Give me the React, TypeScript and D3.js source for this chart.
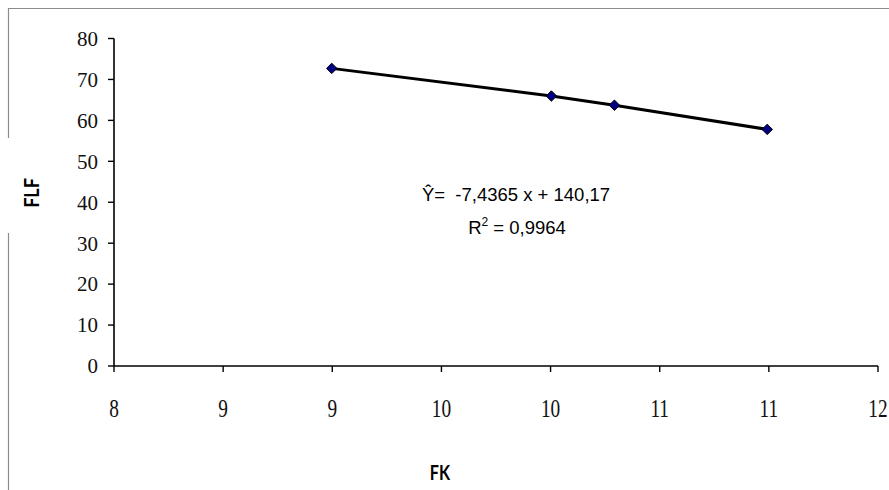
import React from "react";
import * as d3 from "d3";

const fkValues = [9.14, 10.29, 10.62, 11.42];
const flfValues = [72.7, 65.95, 63.7, 57.8];
const xTickLabels = ["8", "9", "9", "10", "10", "11", "11", "12"];
const yTickLabels = ["0", "10", "20", "30", "40", "50", "60", "70", "80"];
const equationText = "Ŷ=  -7,4365 x + 140,17";
const r2Text = "0,9964";

const W = 889;
const H = 490;
const plot = { left: 114, right: 878, top: 38.5, bottom: 366 };

export default function App() {
  const x = d3.scaleLinear().domain([8, 12]).range([plot.left, plot.right]);
  const y = d3.scaleLinear().domain([0, 80]).range([plot.bottom, plot.top]);
  const xTicks = xTickLabels.map((_, i) => 8 + (i * 4) / (xTickLabels.length - 1));
  const yTicks = yTickLabels.map((t) => +t);
  const pts = fkValues.map((v, i) => [x(v), y(flfValues[i])] as [number, number]);
  const line = d3.line()(pts) || "";
  const diamond = d3.symbol().type(d3.symbolDiamond2).size(70)() || "";

  return (
    <svg
      width={W}
      height={H}
      style={{ position: "absolute", left: 0, top: 0, background: "#fff" }}
    >
      <rect x={0} y={0} width={W} height={H} fill="#fff" />
      {/* frame */}
      <line x1={8} y1={8.5} x2={W} y2={8.5} stroke="#8c8c8c" strokeWidth={1.2} />
      <line x1={8.5} y1={8} x2={8.5} y2={138} stroke="#8c8c8c" strokeWidth={1.2} />
      <line x1={8.5} y1={233} x2={8.5} y2={H} stroke="#8c8c8c" strokeWidth={1.2} />

      {/* y axis */}
      <line x1={plot.left} y1={plot.top} x2={plot.left} y2={plot.bottom} stroke="#000" strokeWidth={1.6} />
      {yTicks.map((t, i) => (
        <g key={"y" + i}>
          <line x1={plot.left - 6} y1={y(t)} x2={plot.left} y2={y(t)} stroke="#000" strokeWidth={1.4} />
          <text
            x={98}
            y={y(t)}
            dy="0.35em"
            textAnchor="end"
            fontFamily="'Liberation Serif', serif"
            fontSize={21}
            fill="#111"
          >
            {yTickLabels[i]}
          </text>
        </g>
      ))}

      {/* x axis */}
      <line x1={plot.left} y1={plot.bottom} x2={plot.right} y2={plot.bottom} stroke="#000" strokeWidth={1.6} />
      {xTicks.map((t, i) => (
        <g key={"x" + i}>
          <line x1={x(t)} y1={plot.bottom} x2={x(t)} y2={plot.bottom + 6} stroke="#000" strokeWidth={1.4} />
          <text
            transform={`translate(${x(t)},417) scale(0.92,1.2)`}
            textAnchor="middle"
            fontFamily="'Liberation Serif', serif"
            fontSize={21}
            fill="#111"
          >
            {xTickLabels[i]}
          </text>
        </g>
      ))}

      {/* data line */}
      <path d={line} fill="none" stroke="#000" strokeWidth={3} />
      {pts.map((p, i) => (
        <path
          key={"p" + i}
          d={diamond}
          transform={`translate(${p[0]},${p[1]})`}
          fill="#000080"
          stroke="#000"
          strokeWidth={1}
        />
      ))}

      {/* equation */}
      <text
        x={516}
        y={201}
        textAnchor="middle"
        fontFamily="'Liberation Sans', Arial, sans-serif"
        fontSize={18.5}
        fill="#000"
        style={{ whiteSpace: "pre" }}
      >
        {equationText}
      </text>
      <text
        x={517}
        y={234}
        textAnchor="middle"
        fontFamily="'Liberation Sans', Arial, sans-serif"
        fontSize={18.5}
        fill="#000"
      >
        R<tspan dy={-8} fontSize={12}>2</tspan>
        <tspan dy={8}>{" = " + r2Text}</tspan>
      </text>

      {/* axis titles */}
      <text
        transform="translate(39,193) rotate(-90) scale(1,1.2)"
        textAnchor="middle"
        fontFamily="Lato, 'Open Sans', sans-serif"
        fontWeight="bold"
        fontSize={18}
        fill="#000"
      >
        FLF
      </text>
      <text
        transform="translate(440,480) scale(0.9,1.2)"
        textAnchor="middle"
        fontFamily="Lato, 'Open Sans', sans-serif"
        fontWeight="bold"
        fontSize={18}
        fill="#000"
      >
        FK
      </text>
    </svg>
  );
}
